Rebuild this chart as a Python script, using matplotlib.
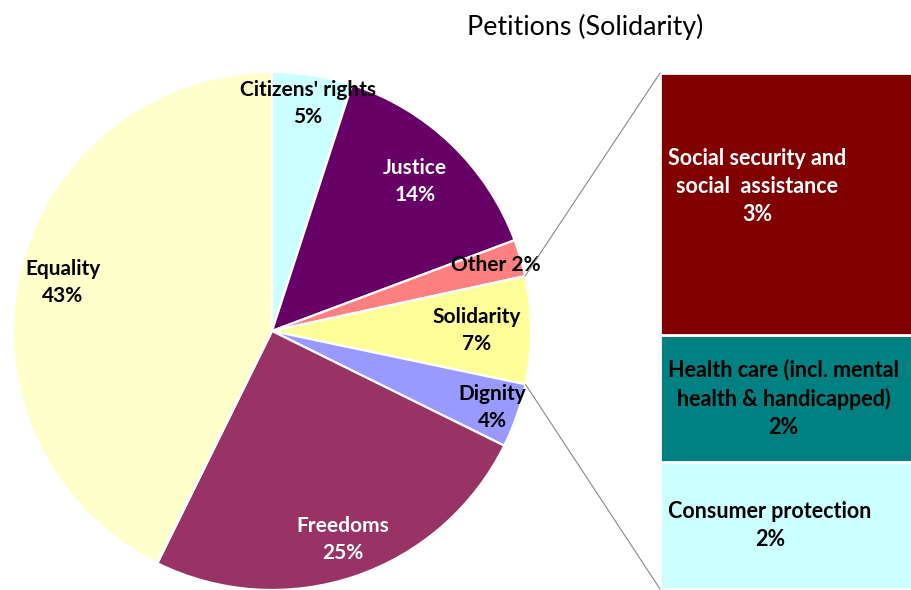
import numpy as np
import matplotlib
matplotlib.use("Agg")
import matplotlib.pyplot as plt
from matplotlib.patches import ConnectionPatch

# Main pie: shares of petitions by chapter (%)
categories = ["Citizens' rights", "Justice", "Other", "Solidarity", "Dignity", "Freedoms", "Equality"]
shares = [5.0, 14.3, 2.3, 6.7, 4.0, 25.0, 42.7]

# Breakdown of the Solidarity slice (%), listed top to bottom
sub_categories = ["Social security and\nsocial  assistance",
                  "Health care (incl. mental\nhealth & handicapped)",
                  "Consumer protection"]
sub_shares = [3.4, 1.65, 1.65]

title = "Petitions (Solidarity)"

pie_colors = ["#CCFFFF", "#660066", "#FF8080", "#FFFF99", "#9999FF", "#993366", "#FFFFCC"]
pie_text_colors = ["black", "white", "black", "black", "black", "white", "black"]
label_dist = [0.89, 0.80, 0.90, 0.79, 0.90, 0.85, 0.83]
sub_colors = ["#800000", "#008080", "#CCFFFF"]
sub_text_colors = ["white", "black", "black"]

plt.rcParams["font.family"] = ["Lato", "DejaVu Sans"]

W, H = 911, 590
fig = plt.figure(figsize=(W / 100, H / 100), dpi=100)

# pie axes uses pixel-sized data units
ax = fig.add_axes([0, 0, 1, 1])
center = (272, 259)
radius = 259
wedges, _ = ax.pie(shares, colors=pie_colors, startangle=90, counterclock=False,
                   center=center, radius=radius,
                   wedgeprops=dict(edgecolor="white", linewidth=1.6))
ax.set_xlim(0, W)
ax.set_ylim(0, H)
ax.set_aspect("equal")
ax.axis("off")

for w, name, val, dist, tc in zip(wedges, categories, shares, label_dist, pie_text_colors):
    mid = np.deg2rad((w.theta1 + w.theta2) / 2)
    x = center[0] + radius * dist * np.cos(mid)
    y = center[1] + radius * dist * np.sin(mid)
    if name == "Other":
        txt = f"{name} {val:.0f}%"
    else:
        txt = f"{name}\n{val:.0f}%"
    ax.text(x, y, txt, ha="center", va="center", fontsize=15, fontweight="bold",
            color=tc, linespacing=1.45)

# stacked bar for the Solidarity breakdown
bax = fig.add_axes([660 / W, 1 / H, 300 / W, 516 / H])
total = sum(sub_shares)
bottom = 0
mids = []
for name, val, col in zip(sub_categories[::-1], sub_shares[::-1], sub_colors[::-1]):
    bax.bar(0.5, val, width=1, bottom=bottom, color=col, edgecolor="white", linewidth=2)
    mids.append(bottom + val / 2)
    bottom += val
mids = mids[::-1]
bax.set_xlim(0, 1)
bax.set_ylim(0, total)
bax.axis("off")

for i, (name, val, tc) in enumerate(zip(sub_categories, sub_shares, sub_text_colors)):
    yoff = 0.23 if i == 0 else 0
    bax.text(8 / 300, mids[i] + yoff, f"{name}\n{val:.0f}%", transform=bax.get_yaxis_transform(),
             ha="left", va="center", multialignment="center", fontsize=15.5,
             fontweight="bold", color=tc, linespacing=1.4)

# connector lines from the Solidarity slice to the bar
sol = wedges[categories.index("Solidarity")]
for ang, corner in [(sol.theta2, (0, 1)), (sol.theta1, (0, 0))]:
    a = np.deg2rad(ang)
    p = (center[0] + radius * np.cos(a), center[1] + radius * np.sin(a))
    con = ConnectionPatch(xyA=p, coordsA=ax.transData, xyB=corner, coordsB=bax.transAxes,
                          color="#888888", linewidth=0.8)
    fig.add_artist(con)

fig.text(585 / W, 1 - 27 / H, title, ha="center", va="center", fontsize=19.3)

fig.savefig("out.png", dpi=100)
